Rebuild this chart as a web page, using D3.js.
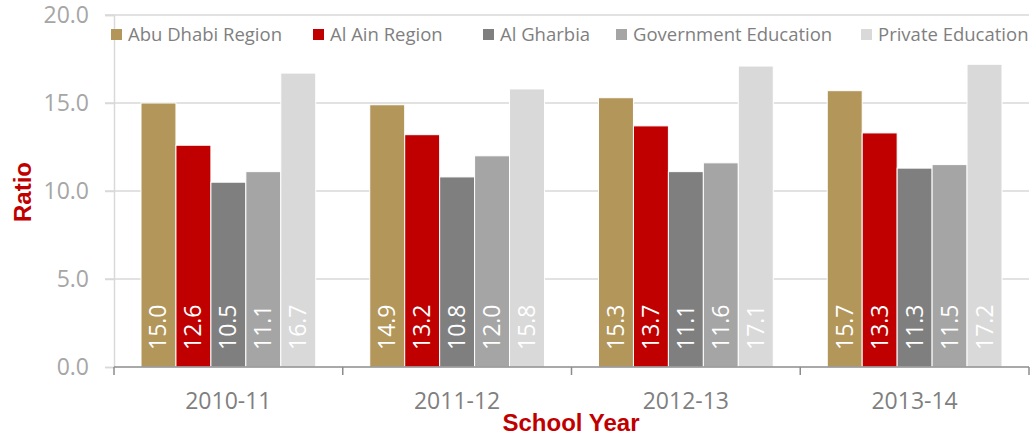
<!DOCTYPE html>
<html><head><meta charset="utf-8">
<script src="https://cdn.jsdelivr.net/npm/d3@7"></script>
<style>body{margin:0;background:#fff}svg{display:block}</style>
</head><body>
<svg id="c" width="1031" height="436"></svg>
<script>
const years = ["2010-11","2011-12","2012-13","2013-14"];
const seriesNames = ["Abu Dhabi Region","Al Ain Region","Al Gharbia","Government Education","Private Education"];
const seriesColors = ["#B3965A","#C00000","#7F7F7F","#A5A5A5","#D9D9D9"];
const abuDhabi = [15.0,14.9,15.3,15.7];
const alAin = [12.6,13.2,13.7,13.3];
const alGharbia = [10.5,10.8,11.1,11.3];
const govEdu = [11.1,12.0,11.6,11.5];
const privEdu = [16.7,15.8,17.1,17.2];
const yTicks = [0,5,10,15,20];
const allSeries = [abuDhabi,alAin,alGharbia,govEdu,privEdu];

(function(){
const svg = d3.select("#c");
const font = "'Open Sans', sans-serif";
const pL=114, pR=1029, pT=15, pB=367;
const x0 = d3.scaleBand().domain(years).range([pL,pR]).paddingInner(0).paddingOuter(0);
const groupPad = 27;
const x1 = d3.scaleBand().domain(seriesNames).range([0, x0.bandwidth()-2*groupPad]);
const y = d3.scaleLinear().domain([0,20]).range([pB,pT]);

svg.append("g").selectAll("line").data(yTicks.filter(d=>d>0)).join("line")
  .attr("x1",105).attr("x2",pR).attr("y1",d=>y(d)).attr("y2",d=>y(d))
  .attr("stroke","#D9D9D9").attr("stroke-width",1.5);
const yAxis = d3.axisLeft(y).tickValues(yTicks).tickFormat(d3.format(".1f")).tickSize(9).tickPadding(16);
const ya = svg.append("g").attr("transform",`translate(${pL},0)`).call(yAxis);
ya.select(".domain").attr("stroke","#D9D9D9").attr("stroke-width",1.5);
ya.selectAll(".tick line").attr("stroke","#D9D9D9").attr("stroke-width",1.5);
ya.selectAll("text").attr("fill","#A6A6A6").style("font-family",font).style("font-size","23px");

const groups = svg.append("g").selectAll("g").data(years).join("g")
  .attr("transform",d=>`translate(${x0(d)+groupPad},0)`);
groups.each(function(yr,i){
  const g = d3.select(this);
  seriesNames.forEach((s,j)=>{
    const v = allSeries[j][i];
    g.append("rect").attr("x",x1(s)).attr("width",x1.bandwidth())
      .attr("y",y(v)).attr("height",y(0)-y(v)).attr("fill",seriesColors[j])
      .attr("stroke","#fff").attr("stroke-width",1);
    g.append("text").attr("transform",`translate(${x1(s)+x1.bandwidth()/2+8},${y(0)-17}) rotate(-90)`)
      .attr("text-anchor","start").attr("fill","#fff")
      .style("font-family",font).style("font-size","23px").text(v.toFixed(1));
  });
});

const xAxis = d3.axisBottom(x0).tickSize(0).tickPadding(26);
const xa = svg.append("g").attr("transform",`translate(0,${pB})`).call(xAxis);
xa.select(".domain").remove();
svg.append("line").attr("x1",pL).attr("x2",pR).attr("y1",pB).attr("y2",pB).attr("stroke","#8C8C8C").attr("stroke-width",1.5);
svg.append("g").selectAll("line").data(years.map(d=>x0(d)).concat([pR])).join("line")
  .attr("x1",d=>d).attr("x2",d=>d).attr("y1",pB).attr("y2",pB+8).attr("stroke","#8C8C8C").attr("stroke-width",1.5);
xa.selectAll("text").attr("fill","#7F7F7F").style("font-family",font).style("font-size","23px");

svg.append("text").attr("x",571).attr("y",431).attr("text-anchor","middle")
  .attr("fill","#C00000").style("font-family","'Liberation Sans', Arial, sans-serif").style("font-weight","bold").style("font-size","24px").text("School Year");
svg.append("text").attr("transform","translate(31,192) rotate(-90)").attr("text-anchor","middle")
  .attr("fill","#C00000").style("font-family","'Liberation Sans', Arial, sans-serif").style("font-weight","bold").style("font-size","24px").text("Ratio");

const legendX = [111,313,483,616,861];
const lg = svg.append("g").selectAll("g").data(seriesNames).join("g")
  .attr("transform",(d,i)=>`translate(${legendX[i]},35)`);
lg.append("rect").attr("x",0).attr("y",-6).attr("width",11).attr("height",11).attr("fill",(d,i)=>seriesColors[i]);
lg.append("text").attr("x",17).attr("y",0).attr("dy","0.35em").attr("fill","#7F7F7F")
  .style("font-family",font).style("font-size","18.5px").text(d=>d);
})();
</script>
</body></html>
